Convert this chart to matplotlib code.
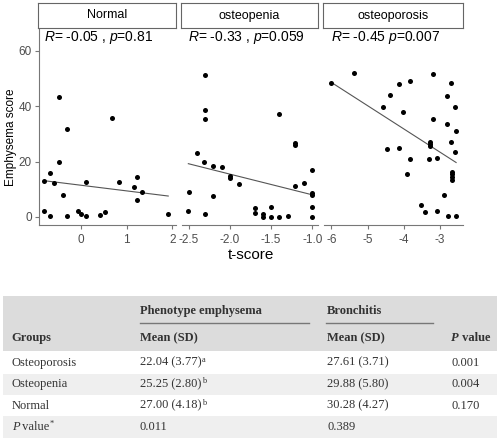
import numpy as np
import matplotlib
matplotlib.use("Agg")
import matplotlib.pyplot as plt
from matplotlib.patches import Rectangle

plt.rcParams['font.family'] = ['Liberation Sans', 'DejaVu Sans']
plt.rcParams['mathtext.fontset'] = 'custom'
plt.rcParams['mathtext.rm'] = 'Liberation Sans'
plt.rcParams['mathtext.it'] = 'Liberation Sans:italic'
plt.rcParams['axes.unicode_minus'] = False

# ---------------- data ----------------
panels = ["Normal", "osteopenia", "osteoporosis"]
stat_labels = [r"$R$= -0.05 , $p$=0.81", r"$R$= -0.33 , $p$=0.059", r"$R$= -0.45 $p$=0.007"]

normal_x = [-0.82, -0.80, -0.68, -0.67, -0.59, -0.48, -0.48, -0.40, -0.30, -0.30, -0.07, 0.01,
            0.11, 0.12, 0.42, 0.53, 0.68, 0.84, 1.15, 1.23, 1.23, 1.34, 1.91]
normal_y = [13.0, 2.2, 16.0, 0.4, 12.1, 43.2, 19.7, 7.9, 31.7, 0.5, 2.0, 1.2,
            12.7, 0.5, 0.7, 1.8, 35.7, 12.5, 10.9, 14.3, 6.1, 9.1, 1.0]

osteopenia_x = [-2.305, -2.305, -2.305, -2.407, -2.318, -2.212, -2.099, -2.002, -2.002, -1.892,
                -2.50, -2.212, -2.508, -2.305, -1.697, -1.697, -1.596, -1.596, -1.503, -1.503,
                -1.401, -1.401, -1.30, -1.207, -1.207, -1.207, -1.102, -1.0, -1.0, -1.0, -1.0, -1.0]
osteopenia_y = [51.3, 38.5, 35.2, 23.0, 20.0, 18.4, 18.2, 14.8, 14.2, 11.9,
                8.9, 7.6, 2.2, 1.1, 3.4, 1.3, 1.1, 0.1, 3.7, 0.1,
                37.0, 0.1, 0.4, 26.6, 26.0, 11.2, 12.4, 17.0, 8.5, 7.9, 3.5, 0.0]

osteoporosis_x = [-5.37, -6.0, -3.21, -3.83, -4.14, -2.69, -4.37, -2.81, -4.57, -2.58,
                  -4.02, -3.21, -2.81, -2.57, -4.46, -4.14, -3.29, -3.29, -3.29, -2.69,
                  -2.58, -3.83, -3.31, -3.09, -3.92, -2.67, -2.67, -2.67, -2.67, -2.89,
                  -3.53, -3.41, -3.10, -2.79, -2.56]
osteoporosis_y = [51.8, 48.5, 51.5, 48.9, 47.9, 48.2, 44.0, 43.8, 39.7, 39.6,
                  37.9, 35.3, 33.7, 31.1, 24.6, 24.8, 26.9, 26.3, 25.7, 26.9,
                  23.6, 20.9, 21.0, 21.2, 15.5, 16.4, 15.5, 14.5, 13.3, 7.8,
                  4.2, 1.7, 2.2, 0.2, 0.4]

panel_x = [normal_x, osteopenia_x, osteoporosis_x]
panel_y = [normal_y, osteopenia_y, osteoporosis_y]
panel_ticks = [[0, 1, 2], [-2.5, -2.0, -1.5, -1.0], [-6, -5, -4, -3]]
panel_ticklabels = [["0", "1", "2"], ["-2.5", "-2.0", "-1.5", "-1.0"], ["-6", "-5", "-4", "-3"]]
panel_xlim = [(-0.92, 2.08), (-2.585, -0.93), (-6.20, -2.37)]
y_ticks = [0, 20, 40, 60]

# table data
tbl_groups = ["Osteoporosis", "Osteopenia", "Normal"]
tbl_emph = ["22.04 (3.77)", "25.25 (2.80)", "27.00 (4.18)"]
tbl_emph_sup = ["a", "b", "b"]
tbl_bron = ["27.61 (3.71)", "29.88 (5.80)", "30.28 (4.27)"]
tbl_p = ["0.001", "0.004", "0.170"]
tbl_p_emph = "0.011"
tbl_p_bron = "0.389"

# ---------------- figure ----------------
W, H = 497, 444
fig = plt.figure(figsize=(W / 100, H / 100), dpi=100)

def rect(x0, y0, x1, y1):
    return [x0 / W, 1 - y1 / H, (x1 - x0) / W, (y1 - y0) / H]

panel_px = [(39, 176), (182, 318), (324, 463)]
axis_col = '#777777'
tick_col = '#4d4d4d'

for i in range(3):
    x0, x1 = panel_px[i]
    ax = fig.add_axes(rect(x0, 28, x1, 225))
    xs = np.array(panel_x[i]); ys = np.array(panel_y[i])
    ax.scatter(xs, ys, s=13, color='black', zorder=3, linewidths=0)
    b, a = np.polyfit(xs, ys, 1)
    xl = np.array([xs.min(), xs.max()])
    ax.plot(xl, a + b * xl, color='#555555', lw=0.8, zorder=2)
    ax.set_xlim(*panel_xlim[i])
    ax.set_ylim(-2.9, 68.2)
    ax.set_xticks(panel_ticks[i])
    ax.set_xticklabels(panel_ticklabels[i])
    ax.text(xs.min(), 64.6, stat_labels[i], fontsize=10, ha='left', va='center', color='black')
    for s in ['top', 'right']:
        ax.spines[s].set_visible(False)
    ax.spines['bottom'].set_color(axis_col)
    ax.spines['bottom'].set_linewidth(0.8)
    ax.tick_params(axis='x', colors=axis_col, labelcolor=tick_col, labelsize=8.5,
                   length=2.75, width=0.8, pad=3.5)
    if i == 0:
        ax.set_yticks(y_ticks)
        ax.spines['left'].set_color(axis_col)
        ax.spines['left'].set_linewidth(0.8)
        ax.tick_params(axis='y', colors=axis_col, labelcolor=tick_col, labelsize=8.5,
                       length=2.75, width=0.8, pad=2.5)
    else:
        ax.spines['left'].set_visible(False)
        ax.set_yticks([])
    ax.patch.set_alpha(0)
    # strip
    sx = fig.add_axes(rect(x0 - 1, 3, x1, 28))
    sx.set_xticks([]); sx.set_yticks([])
    for s in sx.spines.values():
        s.set_color('#666666'); s.set_linewidth(0.8)
    sx.text(0.5, 0.5, panels[i], fontsize=9, ha='center', va='center', transform=sx.transAxes)

fig.text(251 / W, 1 - 255 / H, "t-score", fontsize=11, ha='center', va='center')
fig.text(11 / W, 1 - 137 / H, "Emphysema score", fontsize=8.5, ha='center', va='center', rotation=90)

# ---------------- table ----------------
tx = fig.add_axes([0, 0, 1, 1], zorder=-1)
tx.set_xlim(0, W); tx.set_ylim(H, 0); tx.axis('off')
serif = 'Liberation Serif'
tcol = '#333333'
fs = 9

tx.add_patch(Rectangle((3, 296), W - 3, 55, color='#dcdcdc', lw=0))
row_bounds = [351, 373.5, 395, 416, 437.5]
for r in range(4):
    if r % 2 == 1:
        tx.add_patch(Rectangle((3, row_bounds[r]), W - 3, row_bounds[r + 1] - row_bounds[r],
                               color='#efefef', lw=0))
tx.plot([140, 309], [323, 323], color='#777777', lw=1.0)
tx.plot([326, 433], [323, 323], color='#777777', lw=1.0)

col_x = [11.7, 140, 327, 451]

def chain(x, y, pieces):
    prev = tx.text(x, y, pieces[0][0], fontfamily=serif, color=tcol, ha='left', va='center',
                   **pieces[0][1])
    for txt, kw in pieces[1:]:
        if kw.pop('sup', False):
            prev = tx.annotate(txt, xy=(1, 1), xycoords=prev, xytext=(0.3, 0.5),
                               textcoords='offset points', ha='left', va='top',
                               fontfamily=serif, color=tcol, **kw)
        else:
            prev = tx.annotate(txt, xy=(1, 0), xycoords=prev, ha='left', va='bottom',
                               fontfamily=serif, color=tcol, **kw)
    return prev

bold = dict(fontsize=fs, fontweight='bold')
tx.text(col_x[1], 311, "Phenotype emphysema", fontfamily=serif, color=tcol, ha='left', va='center', **bold)
tx.text(col_x[2], 311, "Bronchitis", fontfamily=serif, color=tcol, ha='left', va='center', **bold)
tx.text(col_x[0], 338, "Groups", fontfamily=serif, color=tcol, ha='left', va='center', **bold)
tx.text(col_x[1], 338, "Mean (SD)", fontfamily=serif, color=tcol, ha='left', va='center', **bold)
tx.text(col_x[2], 338, "Mean (SD)", fontfamily=serif, color=tcol, ha='left', va='center', **bold)
chain(col_x[3], 338, [("P", dict(fontsize=fs, fontweight='bold', fontstyle='italic')),
                      (" value", dict(fontsize=fs, fontweight='bold'))])

row_y = [362.5, 384, 405.5, 427]
for r in range(3):
    y = row_y[r]
    tx.text(col_x[0], y, tbl_groups[r], fontfamily=serif, color=tcol, ha='left', va='center', fontsize=fs)
    chain(col_x[1], y, [(tbl_emph[r], dict(fontsize=fs)), (tbl_emph_sup[r], dict(fontsize=6, sup=True))])
    tx.text(col_x[2], y, tbl_bron[r], fontfamily=serif, color=tcol, ha='left', va='center', fontsize=fs)
    tx.text(col_x[3], y, tbl_p[r], fontfamily=serif, color=tcol, ha='left', va='center', fontsize=fs)

chain(col_x[0], row_y[3], [("P", dict(fontsize=fs, fontstyle='italic')),
                           (" value", dict(fontsize=fs)),
                           ("*", dict(fontsize=6, sup=True))])
tx.text(col_x[1], row_y[3], tbl_p_emph, fontfamily=serif, color=tcol, ha='left', va='center', fontsize=fs)
tx.text(col_x[2], row_y[3], tbl_p_bron, fontfamily=serif, color=tcol, ha='left', va='center', fontsize=fs)

fig.savefig("out.png", dpi=100)
